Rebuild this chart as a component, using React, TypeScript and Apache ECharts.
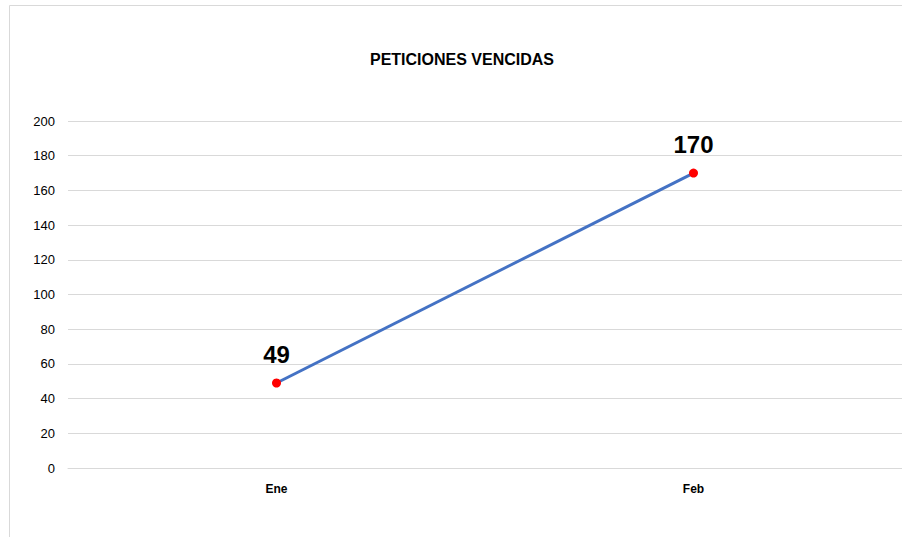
import React, { useEffect, useRef } from "react";
import * as echarts from "echarts";

const categories = ["Ene", "Feb"];
const values = [49, 170];
const titleText = "PETICIONES VENCIDAS";

export default function App() {
  const ref = useRef<HTMLDivElement>(null);
  useEffect(() => {
    if (!ref.current) return;
    const chart = echarts.init(ref.current, undefined, { renderer: "svg" });
    chart.setOption({
      animation: false,
      backgroundColor: "#ffffff",
      title: {
        text: titleText,
        left: 457,
        top: 46,
        textAlign: "center",
        textStyle: { fontFamily: "Liberation Sans", fontSize: 16, fontWeight: "bold", color: "#000000" },
      },
      graphic: [
        {
          type: "rect",
          shape: { x: 9.5, y: 5.5, width: 1000, height: 1000 },
          style: { fill: "none", stroke: "#d9d9d9", lineWidth: 1 },
          silent: true,
        },
      ],
      grid: { left: 68, right: -4, top: 121, bottom: 69, containLabel: false },
      xAxis: {
        type: "category",
        data: categories,
        boundaryGap: true,
        axisLine: { show: true, lineStyle: { color: "#d9d9d9", width: 1 } },
        axisTick: { show: false },
        axisLabel: { margin: 15, fontFamily: "Liberation Sans", fontSize: 12, fontWeight: "bold", color: "#000000" },
      },
      yAxis: {
        type: "value",
        min: 0,
        max: 200,
        interval: 20,
        axisLine: { show: false },
        axisTick: { show: false },
        splitLine: { show: true, lineStyle: { color: "#d9d9d9", width: 1 } },
        axisLabel: { margin: 13, fontFamily: "Liberation Sans", fontSize: 13, color: "#000000" },
      },
      series: [
        {
          type: "line",
          data: values,
          symbol: "circle",
          symbolSize: 9,
          lineStyle: { color: "#4472c4", width: 3 },
          itemStyle: { color: "#ff0000" },
          label: {
            show: true,
            position: "top",
            distance: 12,
            fontFamily: "Liberation Sans",
            fontSize: 24,
            fontWeight: "bold",
            color: "#000000",
          },
        },
      ],
    });
    return () => chart.dispose();
  }, []);
  return (
    <div
      ref={ref}
      style={{ position: "fixed", left: 0, top: 0, width: 902, height: 537 }}
    />
  );
}
